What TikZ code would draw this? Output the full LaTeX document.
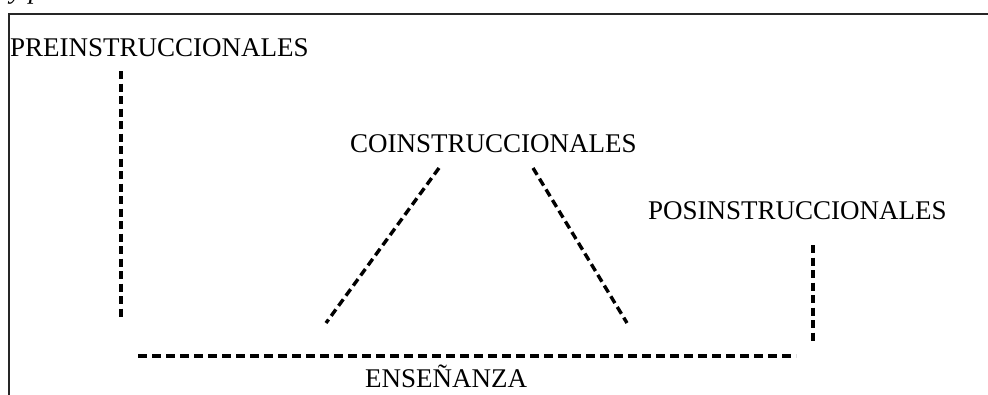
\documentclass[tikz,border=0pt]{standalone}
\usepackage{fontspec}
\setmainfont{Liberation Serif}
\begin{document}
\begin{tikzpicture}[x=1pt,y=-1pt,
  lbl/.style={inner sep=0pt,font=\fontsize{27}{30}\selectfont},
  dline/.style={line width=3.4pt,dash pattern=on 8pt off 4.5pt},
  hline/.style={line width=3.4pt,dash pattern=on 9pt off 5pt},
  frame/.style={line width=2pt,black!85}]
\useasboundingbox (0,0) rectangle (988,394);
\node[lbl,anchor=base west,font=\fontsize{27}{30}\selectfont\itshape] (frag) at (10,-2) {y p};
\draw[frame] (9,400) -- (9,14) -- (995,14);
\node[lbl,anchor=base west] (pre) at (10,56) {PREINSTRUCCIONALES};
\node[lbl,anchor=base west] (co) at (350,152) {COINSTRUCCIONALES};
\node[lbl,anchor=base west] (pos) at (648,219) {POSINSTRUCCIONALES};
\node[lbl,anchor=base west] (ens) at (365,387) {ENSEÑANZA};
\coordinate (p1) at (121,71);
\coordinate (p2) at (121,318);
\coordinate (c1) at (439,168);
\coordinate (c2) at (326,323);
\coordinate (c3) at (533,168);
\coordinate (c4) at (627,323);
\coordinate (q1) at (813,245);
\coordinate (q2) at (813,342);
\coordinate (h1) at (138,356);
\coordinate (h2) at (796,356);
\draw[dline] (p1) -- (p2);
\draw[dline] (c1) -- (c2);
\draw[dline] (c3) -- (c4);
\draw[dline] (q1) -- (q2);
\draw[hline] (h1) -- (h2);
\end{tikzpicture}
\end{document}
